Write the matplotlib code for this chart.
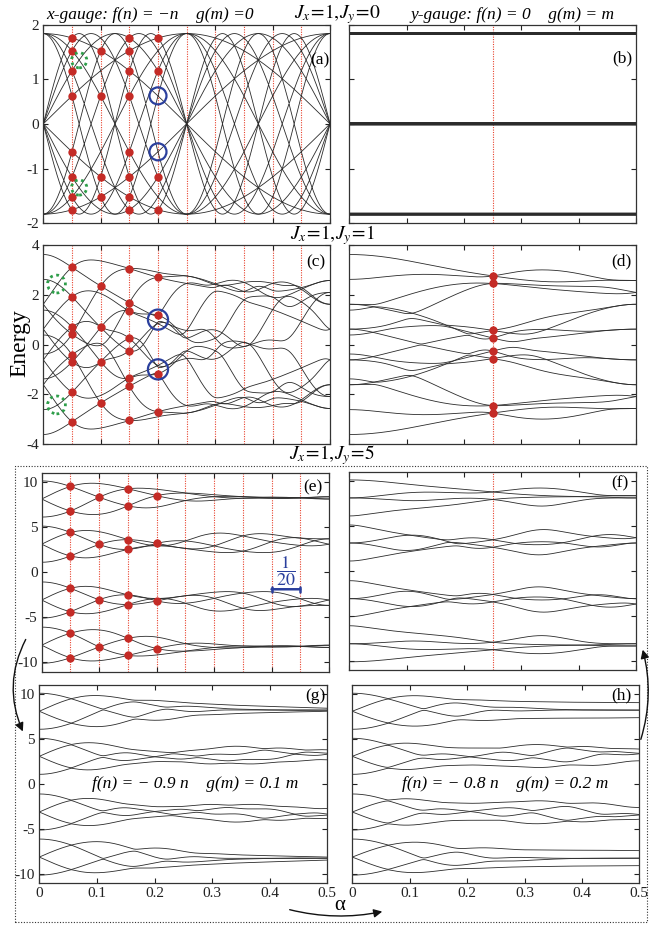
import numpy as np
import matplotlib
matplotlib.use("Agg")
import matplotlib.pyplot as plt
from matplotlib.patches import FancyArrowPatch, Rectangle

plt.rcParams["font.family"] = ["Liberation Serif", "DejaVu Serif"]
plt.rcParams["mathtext.fontset"] = "stix"

W, H = 649, 927

# lattice: 4 sites along x (ring), 4 sites along y (open chain)
NX, NY = 4, 4
JX = 1.0
jy_rows = [0.0, 1.0, 5.0]

# gauge coefficients: f(n) = fc*n, g(m) = gc*m
x_gauge = (-1.0, 0.0)
y_gauge = (0.0, 1.0)
mixed_g = (-0.9, 0.1)
mixed_h = (-0.8, 0.2)

red_lines = [0.05, 0.10, 0.15, 0.20, 0.25, 0.30, 0.35, 0.40, 0.45]
single_line = [0.25]

# marked states (alpha -> energies)
dots_a = {0.05: [1.9, 1.6, 1.18, 0.62, -0.62, -1.18, -1.6, -1.9],
          0.10: [1.6, 0.62, -1.18, -1.6],
          0.15: [1.9, 1.6, 1.18, 0.62, -0.62, -1.18, -1.6, -1.9],
          0.20: [1.9, 1.18, -1.18, -1.9]}
dots_c = {0.05: [3.07, 1.87, 0.69, 0.39, -0.43, -0.71, -1.91, -3.09],
          0.10: [2.33, 0.69, -0.71, -2.35],
          0.15: [3.03, 1.65, 1.33, 0.25, -0.24, -1.33, -1.67, -3.04],
          0.20: [2.65, 1.16, -1.16, -2.67]}
dots_d = {0.25: [2.77, 2.44, 0.57, 0.27, -0.25, -0.56, -2.43, -2.72]}
dots_e = {0.05: [9.55, 6.8, 4.4, 1.8, -1.8, -4.4, -6.8, -9.55],
          0.10: [8.25, 3.05, -3.05, -8.25],
          0.15: [9.2, 7.3, 3.6, 2.5, -2.5, -3.6, -7.3, -9.2],
          0.20: [8.45, 3.2, -3.2, -8.45]}

blue_a = ([0.2, 0.2], [0.62, -0.62])
blue_c = ([0.2, 0.2], [1.0, -1.0])
green_a = ([0.0625, 0.0625], [1.41, -1.41])
green_c = ([0.023, 0.023], [2.43, -2.43])

CURVE = "#2b2b2b"
RED = "#c42b26"
REDLINE = "#e8432e"
BLUE = "#2a3f9d"
GREEN = "#2e9e4a"


def spectrum(alphas, jy, gauge):
    fc, gc = gauge
    alphas = np.atleast_1d(np.asarray(alphas, float))
    h = np.zeros((alphas.size, NX * NY, NX * NY), complex)
    for n in range(NY):
        for m in range(NX):
            i = n * NX + m
            j = n * NX + (m + 1) % NX
            ph = np.exp(2j * np.pi * alphas * fc * (n + 1))
            h[:, j, i] += -JX * ph
            h[:, i, j] += -JX * np.conj(ph)
            if n < NY - 1:
                k = (n + 1) * NX + m
                ph = np.exp(2j * np.pi * alphas * gc * (m + 1))
                h[:, k, i] += -jy * ph
                h[:, i, k] += -jy * np.conj(ph)
    return np.linalg.eigvalsh(h)


def rect(l, t, r, b):
    return [l / W, 1 - b / H, (r - l) / W, (b - t) / H]


def px(x, y):
    return (x / W, 1 - y / H)


fig = plt.figure(figsize=(W / 100, H / 100), dpi=100)

alphas = np.linspace(0, 0.5, 1201)


def panel(box, jy, gauge, ylim, yticks, ylabels, xlabels=False, lines=None,
          dots=None, lw=0.6):
    ax = fig.add_axes(rect(*box))
    ev = spectrum(alphas, jy, gauge)
    if lines:
        for a in lines:
            ax.axvline(a, color=REDLINE, ls=(0, (1, 1.2)), lw=0.8, zorder=1)
    ax.plot(alphas, ev, color=CURVE, lw=lw, zorder=2)
    if dots:
        for a, es in dots.items():
            lev = spectrum([a], jy, gauge)[0]
            snapped = [lev[np.argmin(np.abs(lev - e))] for e in es]
            ax.plot([a] * len(snapped), snapped, "o", color=RED, ms=6,
                    mec="none", zorder=4)
    ax.set_xlim(0, 0.5)
    ax.set_ylim(*ylim)
    ax.set_xticks([0, 0.1, 0.2, 0.3, 0.4, 0.5])
    ax.set_yticks(yticks)
    if ylabels is None:
        ax.set_yticklabels([])
    else:
        ax.set_yticklabels(ylabels)
    if xlabels:
        ax.set_xticklabels(["0", "0.1", "0.2", "0.3", "0.4", "0.5"])
    else:
        ax.set_xticklabels([])
    ax.tick_params(direction="in", top=True, right=True, length=3.5,
                   width=0.8, labelsize=11, pad=3, colors="#222")
    for s in ax.spines.values():
        s.set_color("#333")
        s.set_linewidth(0.9)
    return ax


ya = [-2.19, -1, 0, 1, 2.19]
yl_a = ["-2", "-1", "0", "1", "2"]
yc = [-4, -2, 0, 2, 4]
yl_c = ["-4", "-2", "0", "2", "4"]
ye = [-10, -5, 0, 5, 10]
yl_e = ["-10", "-5", "0", "5", "10"]

ax_a = panel((43.3, 25, 330, 222.7), jy_rows[0], x_gauge, (-2.19, 2.19), ya, yl_a,
             lines=red_lines, dots=dots_a)
ax_b = panel((349.3, 25, 636, 222.7), jy_rows[0], y_gauge, (-2.19, 2.19), ya, None,
             lines=single_line, lw=1.8)
ax_c = panel((43.3, 245, 330, 444), jy_rows[1], x_gauge, (-4, 4), yc, yl_c,
             lines=red_lines, dots=dots_c)
ax_d = panel((349.3, 245, 636, 444), jy_rows[1], y_gauge, (-4, 4), yc, None,
             lines=single_line, dots=dots_d)
ax_e = panel((41.7, 472.7, 329, 671.5), jy_rows[2], x_gauge, (-11, 11), ye, yl_e,
             lines=red_lines, dots=dots_e)
ax_f = panel((349.3, 471.7, 636, 670), jy_rows[2], y_gauge, (-11, 11), ye, None,
             lines=single_line)
ax_g = panel((39.3, 685, 327.3, 883.3), jy_rows[2], mixed_g, (-11, 11), ye, yl_e,
             xlabels=True)
ax_h = panel((352.3, 685, 639.3, 883.3), jy_rows[2], mixed_h, (-11, 11), ye, None,
             xlabels=True)

# highlighted crossings
ax_a.scatter(*blue_a, s=150, facecolors="none", edgecolors=BLUE, linewidths=1.6, zorder=5)
ax_c.scatter(*blue_c, s=210, facecolors="none", edgecolors=BLUE, linewidths=1.6, zorder=5)
ax_a.scatter(*green_a, s=120, facecolors="none", edgecolors=GREEN, linewidths=2.0,
             linestyles=(0, (1, 1.3)), zorder=5)
ax_c.scatter(*green_c, s=165, facecolors="none", edgecolors=GREEN, linewidths=2.0,
             linestyles=(0, (1, 1.3)), zorder=5)

# 1/20 marker in (e)
ax_e.annotate("", xy=(0.45, -1.9), xytext=(0.40, -1.9),
              arrowprops=dict(arrowstyle="|-|,widthA=0.18,widthB=0.18",
                              color=BLUE, lw=1.8, shrinkA=0, shrinkB=0))
ax_e.text(0.425, 0.1, r"$\dfrac{1}{20}$", color=BLUE, fontsize=13,
          ha="center", va="center")

# panel tags
for lab, (x, y) in zip("abcdefgh", [(329, 60), (632, 58), (325, 262), (632, 261),
                                    (323, 487), (628, 483), (325, 696), (632, 695)]):
    fig.text(*px(x, y), f"({lab})", ha="right", va="center", fontsize=12.5)

it = dict(fontstyle="italic", fontsize=12.5, va="center")
fig.text(*px(46, 15), "x-gauge: f(n) = \u2212n    g(m) =0", ha="left", **it)
fig.text(*px(410, 15), "y-gauge: f(n) = 0    g(m) = m", ha="left", **it)
jt = dict(fontsize=14, ha="center", va="center")
fig.text(*px(337, 14), r"$J_x\!=\!\mathit{1},\!J_y\!=\!\mathit{0}$", **jt)
fig.text(*px(332, 235), r"$J_x\!=\!\mathit{1},\!J_y\!=\!\mathit{1}$", **jt)
fig.text(*px(332, 455), r"$J_x\!=\!\mathit{1},\!J_y\!=\!\mathit{5}$", **jt)
fig.text(*px(195, 784), "f(n) = \u2212 0.9 n    g(m) = 0.1 m", ha="center", **it)
fig.text(*px(505, 784), "f(n) = \u2212 0.8 n    g(m) = 0.2 m", ha="center", **it)
fig.text(*px(20, 343), "Energy", rotation=90, ha="center", va="center", fontsize=17)
fig.text(*px(340, 905), "\u03b1", ha="center", va="center", fontsize=15)

# dotted frame round the Jy=5 block
fig.add_artist(Rectangle(px(15, 922), (647 - 15) / W, (922 - 466) / H,
                         transform=fig.transFigure, fill=False, ls=(0, (1, 1.5)),
                         lw=0.8, ec="#333"))

arr = dict(arrowstyle="-|>,head_length=5,head_width=2.5", color="#111", lw=1.0,
           transform=fig.transFigure)
fig.add_artist(FancyArrowPatch(px(27, 637), px(24, 734),
                               connectionstyle="arc3,rad=0.25", **arr))
fig.add_artist(FancyArrowPatch(px(640, 742), px(642, 647),
                               connectionstyle="arc3,rad=0.15", **arr))
fig.add_artist(FancyArrowPatch(px(287, 909), px(385, 911),
                               connectionstyle="arc3,rad=0.12", **arr))

fig.savefig("out.png", dpi=100)
